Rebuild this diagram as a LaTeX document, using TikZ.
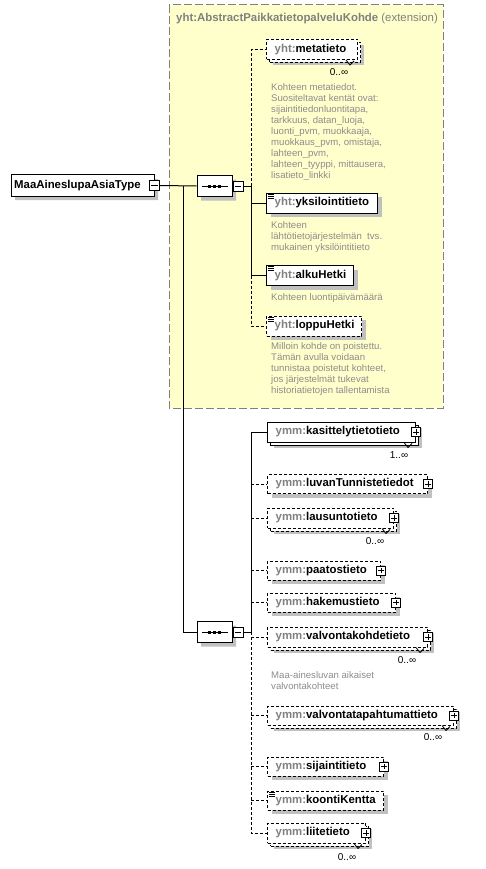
\documentclass[tikz,border=0pt]{standalone}
\usepackage{fontspec}
\setmainfont{Liberation Sans}
\usetikzlibrary{shapes.misc,shadows,calc}
\definecolor{ylw}{HTML}{FFFFCC}
\definecolor{pref}{HTML}{808080}
\definecolor{desc}{HTML}{8C8C8C}
\definecolor{shgray}{HTML}{C0C0C0}
\definecolor{frame}{HTML}{808080}
\tikzset{
  conn/.style={line width=1pt},
  dconn/.style={line width=1pt, dash pattern=on 3pt off 2pt},
  box/.style={draw, fill=white, line width=1pt, minimum height=20pt, inner sep=0, anchor=west},
  dbox/.style={box, dash pattern=on 3pt off 2pt},
  sh/.style={general shadow={fill=shgray, draw=none, shadow xshift=4pt, shadow yshift=-4pt}},
  mul/.style={general shadow={fill=shgray, draw=none, shadow xshift=6pt, shadow yshift=-6pt},
              general shadow={fill=white, draw=black, line width=1pt, shadow xshift=3pt, shadow yshift=-3pt}},
  muld/.style={general shadow={fill=shgray, draw=none, shadow xshift=6pt, shadow yshift=-6pt},
              general shadow={fill=white, draw=black, line width=1pt, dash pattern=on 3pt off 2pt, shadow xshift=3pt, shadow yshift=-3pt}},
  lbl/.style={anchor=west, inner sep=0, font=\fontsize{11.4}{13}\selectfont\bfseries},
  descr/.style={anchor=north west, inner sep=0, align=left, text=desc, font=\fontsize{9.6}{11}\selectfont},
  mult/.style={inner sep=0, font=\fontsize{10}{12}\selectfont},
  plusb/.style={draw, solid, fill=white, line width=0.8pt, minimum size=9pt, inner sep=0,
    path picture={\draw[line width=0.8pt] ([xshift=1.8pt]path picture bounding box.west) -- ([xshift=-1.8pt]path picture bounding box.east)
      ([yshift=-1.8pt]path picture bounding box.north) -- ([yshift=1.8pt]path picture bounding box.south);}},
  minusb/.style={draw, solid, fill=white, line width=0.8pt, minimum size=10pt, inner sep=0,
    path picture={\draw[line width=0.8pt] ([xshift=1.8pt]path picture bounding box.west) -- ([xshift=-1.8pt]path picture bounding box.east);}},
  seqbox/.style={chamfered rectangle, chamfered rectangle xsep=6pt, chamfered rectangle ysep=6pt,
    draw, fill=white, line width=1pt, minimum width=35pt, minimum height=21pt, inner sep=0,
    general shadow={fill=shgray, draw=none, shadow xshift=4pt, shadow yshift=-4pt}},
  rootbox/.style={chamfered rectangle, chamfered rectangle xsep=3pt, chamfered rectangle ysep=3pt,
    draw, fill=white, line width=1pt, minimum width=143pt, minimum height=21pt, inner sep=0,
    general shadow={fill=shgray, draw=none, shadow xshift=4pt, shadow yshift=-4pt}},
}
\newcommand\docicon[1]{\draw[line width=0.8pt] ($(#1.north west)+(2,1.5)$) -- ++(6,0)
  ($(#1.north west)+(2,3.5)$) -- ++(6,0) ($(#1.north west)+(2,5.5)$) -- ++(6,0);}
\newcommand\notchmark[1]{\draw[line width=0.8pt] ($(#1.south east)+(-12,0)$) -- ++(4,5) -- ++(4,-4);}
\newcommand\seqdots[1]{\draw[line width=1pt] ($(#1.west)+(5,0)$) -- ($(#1.east)+(-5,0)$);
  \fill ($(#1.center)+(-6.5,-1.5)$) rectangle ++(3,3);
  \fill ($(#1.center)+(-1.5,-1.5)$) rectangle ++(3,3);
  \fill ($(#1.center)+(3.5,-1.5)$) rectangle ++(3,3);}
\begin{document}
\begin{tikzpicture}[x=1pt,y=-1pt]
\useasboundingbox (0,0) rectangle (485,869);
% extension frame
\draw[frame, fill=ylw, line width=1pt, dash pattern=on 8pt off 3pt] (169,5) rectangle (443,408);
\node[anchor=west, inner sep=0, text=pref, font=\fontsize{11.4}{13}\selectfont] (title) at (176,19)
  {\textbf{yht:AbstractPaikkatietopalveluKohde} (extension)};

% root
\node[rootbox] (root) at (82.5,185.5) {};
\node[lbl, anchor=west] (roott) at (14,185.5) {MaaAineslupaAsiaType};
\node[minusb] (rootm) at (root.east) {};

% sequences
\node[seqbox] (seq1) at (214.5,186) {};
\seqdots{seq1}
\node[minusb, anchor=west] (seq1m) at (seq1.east) {};
\node[seqbox] (seq2) at (214.5,632) {};
\seqdots{seq2}
\node[minusb, anchor=west] (seq2m) at (seq2.east) {};

\coordinate (bus1) at (251,186);
\coordinate (bus2) at (251,632);
\coordinate (j) at (183,186);

% upper elements
\node[dbox, muld, minimum width=91pt] (met) at (266,49.5) {};
\node[lbl] (mett) at ($(met.west)+(8.5,0)$) {\textcolor{pref}{yht:}metatieto};
\notchmark{met}
\node[mult] (metm) at (339,72) {0..∞};
\node[descr] (metd) at (271,83.5) {Kohteen metatiedot.\\Suositeltavat kentät ovat:\\sijaintitiedonluontitapa,\\tarkkuus, datan\_luoja,\\luonti\_pvm, muokkaaja,\\muokkaus\_pvm, omistaja,\\lahteen\_pvm,\\lahteen\_tyyppi, mittausera,\\lisatieto\_linkki};

\node[box, sh, minimum width=111pt] (yks) at (266,203) {};
\node[lbl] (ykst) at ($(yks.west)+(8.5,0)$) {\textcolor{pref}{yht:}yksilointitieto};
\docicon{yks}
\node[descr] (yksd) at (271,221.5) {Kohteen\\lähtötietojärjestelmän\ \ tvs.\\mukainen yksilöintitieto};

\node[box, sh, minimum width=87pt] (alk) at (266,275.5) {};
\node[lbl] (alkt) at ($(alk.west)+(8.5,0)$) {\textcolor{pref}{yht:}alkuHetki};
\docicon{alk}
\node[descr] (alkd) at (271,293.5) {Kohteen luontipäivämäärä};

\node[dbox, sh, minimum width=95pt] (lop) at (266,326) {};
\node[lbl] (lopt) at ($(lop.west)+(8.5,0)$) {\textcolor{pref}{yht:}loppuHetki};
\docicon{lop}
\node[descr] (lopd) at (271,342.5) {Milloin kohde on poistettu.\\Tämän avulla voidaan\\tunnistaa poistetut kohteet,\\jos järjestelmät tukevat\\historiatietojen tallentamista};

% lower elements
\node[box, mul, minimum width=148pt] (kas) at (267,432) {};
\node[lbl] (kast) at ($(kas.west)+(8.5,0)$) {\textcolor{pref}{ymm:}kasittelytietotieto};
\notchmark{kas}
\node[plusb] (kasp) at (kas.east) {};
\node[mult] (kasm) at (399,455) {1..∞};

\node[dbox, sh, minimum width=160pt, minimum height=19pt] (luv) at (267,484) {};
\node[lbl] (luvt) at ($(luv.west)+(8.5,0)$) {\textcolor{pref}{ymm:}luvanTunnistetiedot};
\node[plusb] (luvp) at (luv.east) {};

\node[dbox, muld, minimum width=126pt] (lau) at (267,518) {};
\node[lbl] (laut) at ($(lau.west)+(8.5,0)$) {\textcolor{pref}{ymm:}lausuntotieto};
\notchmark{lau}
\node[plusb] (laup) at (lau.east) {};
\node[mult] (laum) at (375,541) {0..∞};

\node[dbox, sh, minimum width=113pt, minimum height=19pt] (paa) at (267,570.5) {};
\node[lbl] (paat) at ($(paa.west)+(8.5,0)$) {\textcolor{pref}{ymm:}paatostieto};
\node[plusb] (paap) at (paa.east) {};

\node[dbox, sh, minimum width=128pt, minimum height=19pt] (hak) at (267,602.5) {};
\node[lbl] (hakt) at ($(hak.west)+(8.5,0)$) {\textcolor{pref}{ymm:}hakemustieto};
\node[plusb] (hakp) at (hak.east) {};

\node[dbox, muld, minimum width=160pt] (val) at (267,637) {};
\node[lbl] (valt) at ($(val.west)+(8.5,0)$) {\textcolor{pref}{ymm:}valvontakohdetieto};
\notchmark{val}
\node[plusb] (valp) at (val.east) {};
\node[mult] (valm) at (407,660) {0..∞};
\node[descr] (vald) at (271,671.5) {Maa-ainesluvan aikaiset\\valvontakohteet};

\node[dbox, muld, minimum width=186pt, minimum height=19pt] (vtp) at (267,715.5) {};
\node[lbl] (vtpt) at ($(vtp.west)+(8.5,0)$) {\textcolor{pref}{ymm:}valvontatapahtumattieto};
\notchmark{vtp}
\node[plusb] (vtpp) at (vtp.east) {};
\node[mult] (vtpm) at (433,737) {0..∞};

\node[dbox, sh, minimum width=116pt, minimum height=19pt] (sij) at (267,766.5) {};
\node[lbl] (sijt) at ($(sij.west)+(8.5,0)$) {\textcolor{pref}{ymm:}sijaintitieto};
\node[plusb] (sijp) at (sij.east) {};

\node[dbox, sh, minimum width=116pt, minimum height=19pt] (koo) at (267,800.5) {};
\node[lbl] (koot) at ($(koo.west)+(8.5,0)$) {\textcolor{pref}{ymm:}koontiKentta};
\docicon{koo}

\node[dbox, muld, minimum width=98pt] (lii) at (267,833) {};
\node[lbl] (liit) at ($(lii.west)+(8.5,0)$) {\textcolor{pref}{ymm:}liitetieto};
\notchmark{lii}
\node[plusb] (liip) at (lii.east) {};
\node[mult] (liim) at (347,857) {0..∞};

% connectors: root
\draw[conn] (rootm.east) -- (seq1.west);
\draw[conn] (j) |- (seq2.west);
\draw[conn] (seq1m.east) -- (bus1);
\draw[conn] (seq2m.east) -- (bus2);

% upper bus
\draw[dconn] (bus1) -- (met.west -| bus1) -- (met.west);
\draw[conn] (bus1) -- (alk.west -| bus1);
\draw[conn] (yks.west -| bus1) -- (yks.west);
\draw[conn] (alk.west -| bus1) -- (alk.west);
\draw[dconn] (alk.west -| bus1) -- (lop.west -| bus1) -- (lop.west);

% lower bus
\draw[conn] (bus2) -- (kas.west -| bus2) -- (kas.west);
\draw[dconn] (bus2) -- (lii.west -| bus2) -- (lii.west);
\foreach \n in {luv,lau,paa,hak,val,vtp,sij,koo}{
  \draw[dconn] (\n.west -| bus2) -- (\n.west);
}
\end{tikzpicture}
\end{document}
